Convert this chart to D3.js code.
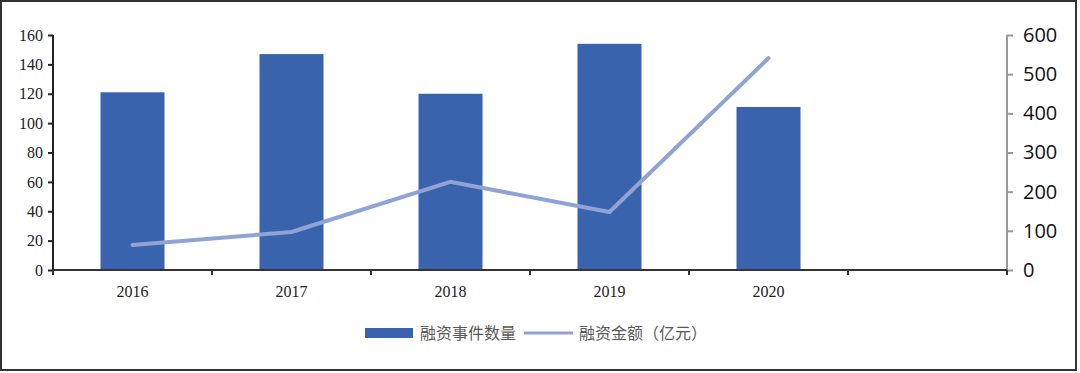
<!DOCTYPE html>
<html><head><meta charset="utf-8">
<script src="https://cdn.jsdelivr.net/npm/d3@7"></script>
<style>body{margin:0;background:#fff}svg{display:block}</style>
</head><body>
<svg id="c" width="1080" height="373"></svg>
<script>
const categories = ["2016","2017","2018","2019","2020",""];
const eventCounts = [121,147,120,154,111,null];
const amounts = [64,97,225,148,541,null];
const leftTicks = [0,20,40,60,80,100,120,140,160];
const rightTicks = [0,100,200,300,400,500,600];
const seriesNames = ["融资事件数量","融资金额（亿元）"];

const svg = d3.select("#c");
const L = 53, R = 1007, T = 35, B = 270;
const barColor = "#3a63ad", lineColor = "#8fa3d4";

svg.append("rect").attr("x",1).attr("y",1).attr("width",1075).attr("height",369)
  .attr("fill","none").attr("stroke","#333").attr("stroke-width",2);

const x = d3.scaleBand().domain(categories.map((d,i)=>i)).range([L,R]).paddingInner(0.6).paddingOuter(0.3);
const xb = d3.scaleBand().domain(categories.map((d,i)=>i)).range([L,R]);
const yL = d3.scaleLinear().domain([0,160]).range([B,T]);
const yR = d3.scaleLinear().domain([0,600]).range([B,T]);

// bars
svg.append("g").selectAll("rect").data(eventCounts.map((v,i)=>({v,i})).filter(d=>d.v!=null))
  .join("rect")
  .attr("x",d=>xb(d.i)+xb.bandwidth()/2-32).attr("width",64)
  .attr("y",d=>yL(d.v)).attr("height",d=>B-yL(d.v)).attr("fill",barColor);

// line
const line = d3.line().x(d=>xb(d.i)+xb.bandwidth()/2).y(d=>yR(d.v));
svg.append("path").datum(amounts.map((v,i)=>({v,i})).filter(d=>d.v!=null))
  .attr("d",line).attr("fill","none").attr("stroke",lineColor).attr("stroke-width",4).attr("stroke-linecap","round");

// left axis
const gl = svg.append("g").attr("transform",`translate(${L},0)`)
  .call(d3.axisLeft(yL).tickValues(leftTicks).tickSize(5).tickSizeOuter(0).tickPadding(5));
gl.select(".domain").remove();
gl.append("line").attr("x1",0).attr("x2",0).attr("y1",T).attr("y2",B+5).attr("stroke","#222").attr("stroke-width",2);
gl.selectAll(".tick line").attr("stroke","#222").attr("stroke-width",2);
gl.selectAll(".tick text").attr("font-family","Liberation Serif, serif").attr("font-size",16).attr("fill","#222");

// right axis
const gr = svg.append("g").attr("transform",`translate(${R},0)`)
  .call(d3.axisRight(yR).tickValues(rightTicks).tickSize(6).tickSizeOuter(0).tickPadding(10));
gr.select(".domain").remove();
gr.append("line").attr("x1",0).attr("x2",0).attr("y1",T).attr("y2",B+5).attr("stroke","#999").attr("stroke-width",2);
gr.selectAll(".tick line").attr("stroke","#999").attr("stroke-width",2);
gr.selectAll(".tick text").attr("font-family","Open Sans, sans-serif").attr("font-size",20).attr("fill","#111");

// x axis
const gx = svg.append("g").attr("transform",`translate(0,${B})`);
gx.append("line").attr("x1",L).attr("x2",R).attr("stroke","#333").attr("stroke-width",2);
const bounds = categories.map((d,i)=>xb(i)).concat([R]);
gx.selectAll("line.t").data(bounds).join("line").attr("class","t")
  .attr("x1",d=>d).attr("x2",d=>d).attr("y1",0).attr("y2",5).attr("stroke","#333").attr("stroke-width",2);
gx.selectAll("text").data(categories).join("text")
  .attr("x",(d,i)=>xb(i)+xb.bandwidth()/2).attr("y",27).attr("text-anchor","middle")
  .attr("font-family","Liberation Serif, serif").attr("font-size",16).attr("fill","#222").text(d=>d);

// legend
const lg = svg.append("g");
lg.append("rect").attr("x",365).attr("y",328).attr("width",48).attr("height",10).attr("fill",barColor);
lg.append("text").attr("x",420).attr("y",339).attr("font-family","Noto Sans CJK SC, sans-serif").attr("font-size",16).attr("fill","#595959").text(seriesNames[0]);
lg.append("line").attr("x1",524).attr("x2",573).attr("y1",333).attr("y2",333).attr("stroke",lineColor).attr("stroke-width",3);
lg.append("text").attr("x",579).attr("y",339).attr("font-family","Noto Sans CJK SC, sans-serif").attr("font-size",16).attr("fill","#595959").text(seriesNames[1]);
</script>
</body></html>
